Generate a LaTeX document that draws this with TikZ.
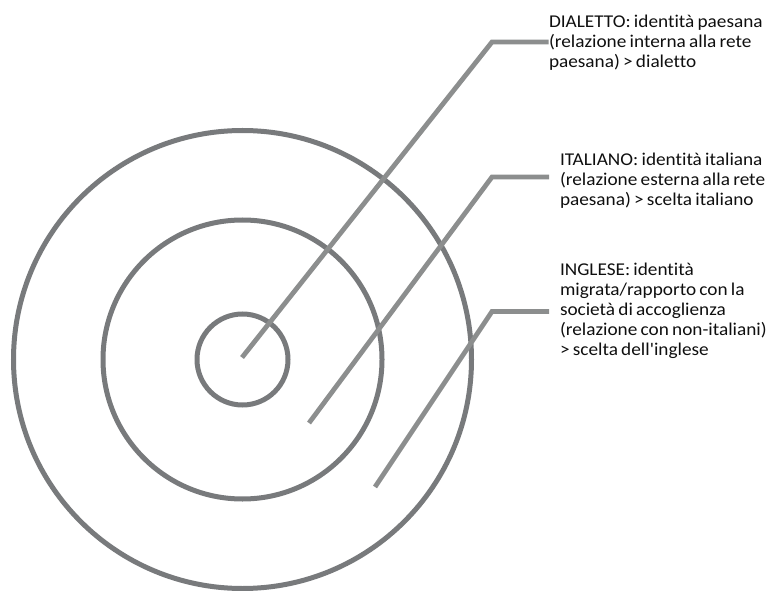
\documentclass[tikz,border=0pt]{standalone}
\usepackage{fontspec}
\newfontfamily\labfont{Carlito}[Ligatures=NoCommon,FakeStretch=1.07,WordSpace=0.75]
\definecolor{ringgray}{RGB}{120,122,124}
\definecolor{leadgray}{RGB}{140,142,142}
\definecolor{txt}{RGB}{15,15,15}
\begin{document}
\begin{tikzpicture}[x=0.75pt,y=-0.75pt,
  ring/.style={circle,draw=ringgray,line width=3.75pt,inner sep=0pt,outer sep=0pt},
  leader/.style={draw=leadgray,line width=3.6pt,line join=miter},
  label/.style={anchor=north west,inner sep=0pt,outer sep=0pt,align=left,text=txt,
    font=\labfont\fontsize{13.5pt}{15pt}\selectfont}]
\useasboundingbox (0,0) rectangle (770,591);
% rings
\node[ring,minimum size=68.25pt] (inner) at (242.5,359.5) {};
\node[ring,minimum size=209.25pt] (middle) at (242.5,359.5) {};
\node[ring,minimum size=343.5pt] (outer) at (242.5,359.5) {};
% leader coordinates
\coordinate (d0) at (242,357.5);
\coordinate (d1) at (492,42);
\coordinate (d2) at (548.5,42);
\coordinate (i0) at (309,423);
\coordinate (i1) at (492,177);
\coordinate (i2) at (549,177);
\coordinate (e0) at (375,487);
\coordinate (e1) at (492,311.5);
\coordinate (e2) at (549,311.5);
% leaders
\draw[leader] (d0) -- (d1) -- (d2);
\draw[leader] (i0) -- (i1) -- (i2);
\draw[leader] (e0) -- (e1) -- (e2);
% labels
\node[label] (dial) at (549,13.5) {\strut DIALETTO: identità paesana\\(relazione interna alla rete\\paesana) > dialetto};
\node[label] (ital) at (560,152) {\strut ITALIANO: identità italiana\\(relazione esterna alla rete\\paesana) > scelta italiano};
\node[label] (ingl) at (560,261.5) {\strut INGLESE: identità\\migrata/rapporto con la\\società di accoglienza\\(relazione con non-italiani)\\> scelta dell'inglese};
\end{tikzpicture}
\end{document}
